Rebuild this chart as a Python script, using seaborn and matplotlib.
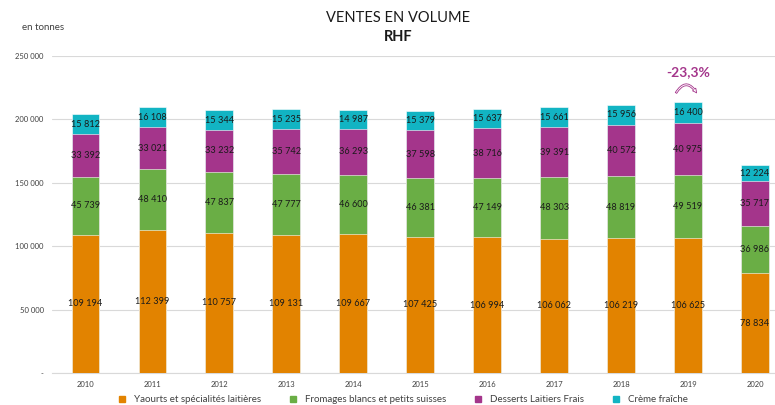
import numpy as np
import pandas as pd
import matplotlib
matplotlib.use("Agg")
import matplotlib.pyplot as plt
import seaborn as sns
from matplotlib.patches import FancyArrowPatch
from matplotlib.lines import Line2D

years = ["2010", "2011", "2012", "2013", "2014", "2015", "2016", "2017", "2018", "2019", "2020"]
yaourts = [109194, 112399, 110757, 109131, 109667, 107425, 106994, 106062, 106219, 106625, 78834]
fromages = [45739, 48410, 47837, 47777, 46600, 46381, 47149, 48303, 48819, 49519, 36986]
desserts = [33392, 33021, 33232, 35742, 36293, 37598, 38716, 39391, 40572, 40975, 35717]
creme = [15812, 16108, 15344, 15235, 14987, 15379, 15637, 15661, 15956, 16400, 12224]
series_names = ["Yaourts et spécialités laitières", "Fromages blancs et petits suisses",
                "Desserts Laitiers Frais", "Crème fraîche"]
colors = ["#E28300", "#6AAE45", "#A4358B", "#12B4C3"]
ytick_vals = [0, 50000, 100000, 150000, 200000, 250000]
ytick_labels = ["-", "50 000", "100 000", "150 000", "200 000", "250 000"]

sns.set_theme(style="white")
plt.rcParams["font.family"] = ["Lato", "DejaVu Sans"]

series = [yaourts, fromages, desserts, creme]
cum = np.cumsum(np.array(series), axis=0)

fig = plt.figure(figsize=(7.75, 4.05), dpi=100)
ax = fig.add_axes([52/775, (405-373)/405, (775-52)/775, (373-56)/405])

for i in range(3, -1, -1):
    df = pd.DataFrame({"year": years, "val": cum[i]})
    sns.barplot(data=df, x="year", y="val", color=colors[i], width=0.415,
                saturation=1, ax=ax, edgecolor="white", linewidth=0.4, zorder=3)

def fmt(v):
    return f"{v:,}".replace(",", " ")

for i in range(4):
    for j in range(len(years)):
        bottom = cum[i][j] - series[i][j]
        y = bottom + series[i][j] / 2
        ax.text(j, y, fmt(series[i][j]), ha="center", va="center", fontsize=6.6,
                color="#1a1a1a", zorder=5)

ax.set_xlim(-0.5, 10.3)
ax.set_ylim(0, 250000)
ax.set_yticks(ytick_vals)
ax.set_yticklabels(ytick_labels, fontsize=5.5, color="#404040")
ax.tick_params(axis="x", labelsize=5.5, colors="#404040", length=0, pad=6)
ax.tick_params(axis="y", length=0, pad=6)
ax.set_xlabel("")
ax.set_ylabel("")
ax.yaxis.grid(True, color="#D9D9D9", linewidth=0.8, zorder=0)
ax.set_axisbelow(True)
for s in ["top", "right", "left"]:
    ax.spines[s].set_visible(False)
ax.spines["bottom"].set_color("#D9D9D9")
ax.spines["bottom"].set_linewidth(0.8)

# Annotation
ax.text(9, 237000, "-23,3%", ha="center", va="center", fontsize=10, fontweight="bold",
        color="#A4358B", zorder=6)
arr = FancyArrowPatch((8.8, 219000), (9.15, 219000), connectionstyle="arc3,rad=-0.9",
                      arrowstyle="simple,head_width=3,head_length=3,tail_width=1.2",
                      facecolor="white", edgecolor="#A4358B", linewidth=0.6, zorder=6)
ax.add_patch(arr)

fig.text(398/775, 1 - 18/405, "VENTES EN VOLUME", ha="center", va="center", fontsize=10.5, color="#1a1a1a")
fig.text(398/775, 1 - 37/405, "RHF", ha="center", va="center", fontsize=10.5, fontweight="bold", color="#1a1a1a")
fig.text(22/775, 1 - 27/405, "en tonnes", ha="left", va="center", fontsize=7, color="#404040")

handles = [Line2D([0], [0], marker="s", linestyle="", markersize=4, markerfacecolor=c, markeredgecolor=c)
           for c in colors]
fig.legend(handles, series_names, loc="center", bbox_to_anchor=(400/775, 1 - 400/405), ncol=4,
           frameon=False, fontsize=7, handletextpad=0.2, columnspacing=2.3, labelcolor="#404040")

fig.savefig("out.png", dpi=100)
